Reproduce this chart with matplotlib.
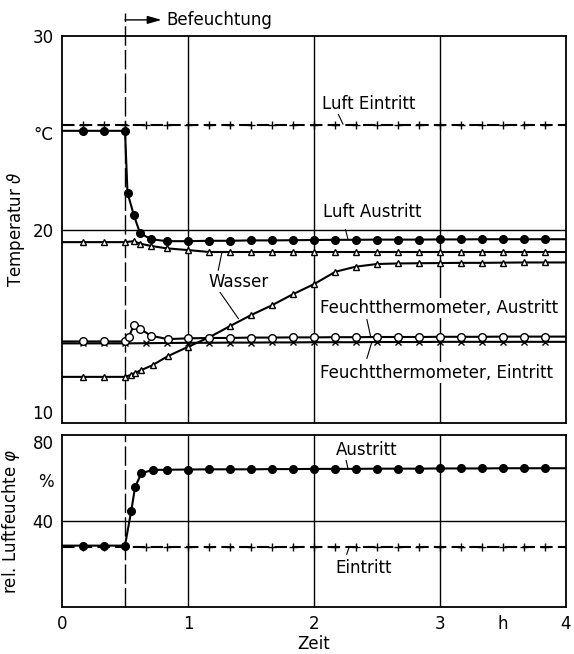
import matplotlib.pyplot as plt

plt.rcParams['font.family'] = ['DejaVu Sans']
plt.rcParams['font.size'] = 12

# time axis in hours; the first and last entries (0 and 4) only carry the line
t_std = [0.0, 0.17, 0.33, 0.5, 0.67, 0.83, 1.0, 1.17, 1.33, 1.5, 1.67, 1.83, 2.0,
         2.17, 2.33, 2.5, 2.67, 2.83, 3.0, 3.17, 3.33, 3.5, 3.67, 3.83, 4.0]

# Luft Eintritt (+)
luft_ein = [25.4, 25.4, 25.4, 25.4, 25.4, 25.4, 25.4, 25.4, 25.4, 25.4, 25.4, 25.4, 25.4,
            25.4, 25.4, 25.4, 25.4, 25.4, 25.4, 25.4, 25.4, 25.4, 25.4, 25.4, 25.4]

# Luft Austritt (filled circles)
t_la = [0.0, 0.17, 0.33, 0.5, 0.52, 0.57, 0.62, 0.71, 0.83, 1.0, 1.17, 1.33, 1.5, 1.67,
        1.83, 2.0, 2.17, 2.33, 2.5, 2.67, 2.83, 3.0, 3.17, 3.33, 3.5, 3.67, 3.83, 4.0]
luft_aus = [25.1, 25.1, 25.1, 25.1, 21.9, 20.75, 19.8, 19.5, 19.4, 19.4, 19.42, 19.42, 19.44,
            19.44, 19.45, 19.46, 19.47, 19.47, 19.48, 19.48, 19.48, 19.49, 19.49, 19.5, 19.5,
            19.5, 19.5, 19.5]

# Wasser, upper (triangles)
t_wo = [0.0, 0.17, 0.33, 0.5, 0.57, 0.62, 0.71, 0.83, 1.0, 1.17, 1.33, 1.5, 1.67, 1.83,
        2.0, 2.17, 2.33, 2.5, 2.67, 2.83, 3.0, 3.17, 3.33, 3.5, 3.67, 3.83, 4.0]
wasser_o = [19.35, 19.35, 19.35, 19.35, 19.4, 19.27, 19.15, 19.03, 18.94, 18.84, 18.84, 18.84,
            18.84, 18.84, 18.84, 18.84, 18.84, 18.84, 18.84, 18.84, 18.84, 18.84, 18.84,
            18.84, 18.84, 18.84, 18.84]

# Wasser, lower (triangles)
t_wu = [0.0, 0.17, 0.33, 0.5, 0.55, 0.58, 0.63, 0.72, 0.84, 1.0, 1.17, 1.33, 1.5, 1.67,
        1.83, 2.0, 2.17, 2.33, 2.5, 2.67, 2.83, 3.0, 3.17, 3.33, 3.5, 3.67, 3.83, 4.0]
wasser_u = [12.39, 12.39, 12.39, 12.39, 12.5, 12.6, 12.74, 13.0, 13.46, 13.94, 14.44, 15.0,
            15.58, 16.1, 16.65, 17.18, 17.82, 18.08, 18.22, 18.25, 18.26, 18.27, 18.28,
            18.28, 18.29, 18.3, 18.3, 18.3]

# Feuchtthermometer, Austritt (open circles)
t_fa = [0.0, 0.17, 0.33, 0.5, 0.53, 0.57, 0.62, 0.71, 0.84, 1.0, 1.17, 1.33, 1.5, 1.67,
        1.83, 2.0, 2.17, 2.33, 2.5, 2.67, 2.83, 3.0, 3.17, 3.33, 3.5, 3.67, 3.83, 4.0]
feucht_aus = [14.22, 14.22, 14.22, 14.22, 14.46, 15.05, 14.86, 14.51, 14.34, 14.38, 14.4, 14.4,
              14.42, 14.42, 14.43, 14.43, 14.44, 14.44, 14.45, 14.45, 14.45, 14.46, 14.46,
              14.46, 14.47, 14.47, 14.47, 14.47]

# Feuchtthermometer, Eintritt (crosses)
feucht_ein = [14.12, 14.12, 14.12, 14.12, 14.13, 14.14, 14.15, 14.15, 14.16, 14.16, 14.17,
              14.17, 14.18, 14.18, 14.18, 14.19, 14.19, 14.19, 14.2, 14.2, 14.2, 14.2, 14.2,
              14.2, 14.2]

# relative humidity, Austritt (filled circles) and Eintritt (+)
t_ra = [0.0, 0.17, 0.33, 0.5, 0.55, 0.58, 0.63, 0.72, 0.83, 1.0, 1.17, 1.33, 1.5, 1.67,
        1.83, 2.0, 2.17, 2.33, 2.5, 2.67, 2.83, 3.0, 3.17, 3.33, 3.5, 3.67, 3.83, 4.0]
rh_aus = [28.5, 28.5, 28.5, 28.5, 44.8, 55.7, 62.2, 63.7, 63.8, 63.9, 64.0, 64.0, 64.0, 64.1,
          64.1, 64.2, 64.2, 64.2, 64.3, 64.3, 64.3, 64.4, 64.4, 64.4, 64.5, 64.5, 64.5, 64.5]
rh_ein = [28.0, 28.0, 28.0, 28.0, 28.0, 28.0, 28.0, 28.0, 28.0, 28.0, 28.0, 28.0, 28.0,
          28.0, 28.0, 28.0, 28.0, 28.0, 28.0, 28.0, 28.0, 28.0, 28.0, 28.0, 28.0]

x_ticks = [0, 1, 2, 3, 3.5, 4]
x_labels = ['0', '1', '2', '3', 'h', '4']

fig = plt.figure(figsize=(5.74, 6.54), dpi=100)
ax1 = fig.add_axes([0.108, 0.353, 0.878, 0.592])
ax2 = fig.add_axes([0.108, 0.072, 0.878, 0.263])

inner = slice(1, -1)
line_kw = dict(color='black', lw=1.5, markeredgecolor='black')

# top panel
ax1.plot(t_std, luft_ein, linestyle=(0, (6, 2.5)), marker='+', ms=6, mew=1.0,
         markevery=inner, **line_kw)
ax1.plot(t_la, luft_aus, marker='o', ms=5.5, markevery=inner, **line_kw)
ax1.plot(t_wo, wasser_o, marker='^', ms=4.5, mfc='white', mew=1.0, markevery=inner, **line_kw)
ax1.plot(t_wu, wasser_u, marker='^', ms=4.5, mfc='white', mew=1.0, markevery=inner, **line_kw)
ax1.plot(t_std, feucht_ein, marker='x', ms=4.5, mew=1.0, markevery=inner, **line_kw)
ax1.plot(t_fa, feucht_aus, marker='o', ms=5.5, mfc='white', mew=1.0, markevery=inner, **line_kw)

ax1.set_xlim(0, 4)
ax1.set_ylim(10, 30)
ax1.set_yticks([10, 20, 25, 30])
ax1.set_yticklabels(['10', '20', '°C', '30'])
ax1.get_yticklabels()[0].set_va('bottom')
ax1.set_xticks([1, 2, 3])
ax1.tick_params(axis='x', labelbottom=False)
ax1.set_ylabel('Temperatur $\\vartheta$', labelpad=4)

# bottom panel
ax2.plot(t_std, rh_ein, linestyle=(0, (6, 2.5)), marker='+', ms=6, mew=1.0,
         markevery=inner, **line_kw)
ax2.plot(t_ra, rh_aus, marker='o', ms=5.5, markevery=inner, **line_kw)
ax2.set_xlim(0, 4)
ax2.set_ylim(0, 80)
ax2.set_yticks([40, 59, 80])
ax2.set_yticklabels(['40', '%', '80'])
ax2.get_yticklabels()[2].set_va('top')
ax2.set_xticks(x_ticks)
ax2.set_xticklabels(x_labels)
ax2.set_xlabel('Zeit', labelpad=1)
ax2.set_ylabel('rel. Luftfeuchte $\\varphi$', labelpad=8)

for ax in (ax1, ax2):
    ax.tick_params(length=0, pad=6, labelsize=12)
    for s in ax.spines.values():
        s.set_linewidth(1.3)
    for xg in [1, 2, 3]:
        ax.axvline(xg, color='black', lw=1.0, zorder=0)
    ax.axhline(20 if ax is ax1 else 40, color='black', lw=1.0, zorder=0)

# start of humidification
ax1.plot([0.5, 0.5], [10, 31.2], color='black', lw=1.0, linestyle=(0, (14, 3)),
         clip_on=False, zorder=1)
ax2.plot([0.5, 0.5], [0, 80], color='black', lw=1.0, linestyle=(0, (14, 3)), zorder=1)
ax1.annotate('', xy=(0.79, 30.83), xytext=(0.5, 30.83), annotation_clip=False,
             arrowprops=dict(arrowstyle='-|>,head_length=0.7,head_width=0.2',
                             color='black', lw=1.0, shrinkA=0, shrinkB=0))
ax1.text(0.83, 30.83, 'Befeuchtung', va='center', ha='left', fontsize=12)

# labels with leader lines
box = dict(facecolor='white', edgecolor='none', pad=1)
lbl = dict(fontsize=12, va='center', ha='left', bbox=box, zorder=3)
ax1.text(2.06, 26.5, 'Luft Eintritt', **lbl)
ax1.plot([2.19, 2.23], [26.0, 25.45], color='black', lw=0.8)
ax1.text(2.07, 20.9, 'Luft Austritt', **lbl)
ax1.plot([2.25, 2.27], [20.0, 19.5], color='black', lw=0.8)
ax1.text(1.16, 17.3, 'Wasser', **lbl)
ax1.plot([1.24, 1.27], [17.9, 18.84], color='black', lw=0.8)
ax1.plot([1.25, 1.40], [16.8, 15.4], color='black', lw=0.8)
ax1.text(2.05, 15.94, 'Feuchtthermometer, Austritt', **lbl)
ax1.plot([2.42, 2.45], [15.35, 14.47], color='black', lw=0.8)
ax1.text(2.05, 12.6, 'Feuchtthermometer, Eintritt', **lbl)
ax1.plot([2.42, 2.46], [13.35, 14.2], color='black', lw=0.8)

ax2.text(2.17, 73, 'Austritt', **lbl)
ax2.plot([2.25, 2.27], [69.5, 64.3], color='black', lw=0.8)
ax2.text(2.17, 18, 'Eintritt', **lbl)
ax2.plot([2.26, 2.28], [24.5, 28.0], color='black', lw=0.8)

fig.savefig('out.png', dpi=100)
